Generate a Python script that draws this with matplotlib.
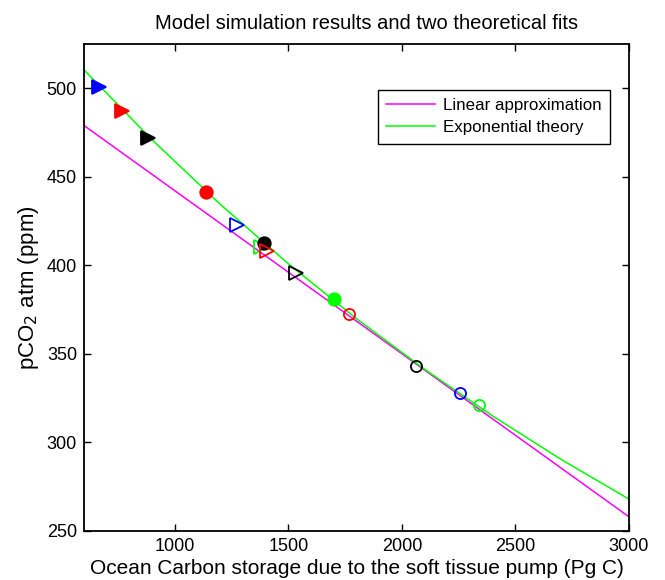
import matplotlib
matplotlib.use("Agg")
import matplotlib.pyplot as plt

plt.rcParams['font.family'] = ['Liberation Sans', 'DejaVu Sans']

# theoretical fits
lin_x = [600, 3000]
lin_y = [479.0, 258.0]

exp_x = [600, 900, 1200, 1500, 1800, 2100, 2400, 2700, 3000]
exp_y = [510.4, 470.9, 434.5, 400.9, 369.9, 341.3, 314.9, 290.5, 268.0]

# model simulation results (drawing order matters for overlaps)
pt_x = [668, 768, 884, 1138, 1275, 1378, 1394, 1407, 1532, 1700, 1766, 2062, 2255, 2338]
pt_y = [501.0, 487.3, 472.0, 441.2, 422.6, 410.4, 412.8, 407.9, 395.7, 381.0, 372.4, 343.0, 328.0, 321.1]
pt_color = ['b', 'r', 'k', 'r', 'b', 'lime', 'k', 'r', 'k', 'lime', 'r', 'k', 'b', 'lime']
pt_shape = ['>', '>', '>', 'o', '>', '>', 'o', '>', '>', 'o', 'o', 'o', 'o', 'o']
pt_filled = [True, True, True, True, False, False, True, False, False, True, False, False, False, False]

fig = plt.figure(figsize=(6.65, 5.8), dpi=100)
ax = fig.add_axes([0.1263, 0.0845, 0.8196, 0.8396])

ax.plot(lin_x, lin_y, color='magenta', lw=1.1, label='Linear approximation')
ax.plot(exp_x, exp_y, color='lime', lw=1.1, label='Exponential theory')

for i in range(len(pt_x)):
    c = pt_color[i]
    ms = 9.5 if pt_shape[i] == '>' else (9 if pt_filled[i] else 8)
    ax.plot(pt_x[i], pt_y[i], marker=pt_shape[i], ms=ms, mew=1.3,
            mec=c, mfc=c if pt_filled[i] else 'none', ls='none', zorder=3 + i)

ax.set_xlim(600, 3000)
ax.set_ylim(250, 525)
ax.set_xticks([1000, 1500, 2000, 2500, 3000])
ax.set_yticks([250, 300, 350, 400, 450, 500])
ax.tick_params(direction='in', top=True, right=True, length=5, width=1.0,
               labelsize=13, pad=5)
for s in ax.spines.values():
    s.set_linewidth(1.3)

ax.set_xlabel('Ocean Carbon storage due to the soft tissue pump (Pg C)', fontsize=15, labelpad=3)
ax.set_ylabel('pCO$_2$ atm (ppm)', fontsize=16, labelpad=4)
ax.set_title('Model simulation results and two theoretical fits', fontsize=14.5, pad=11, x=0.518)

leg = ax.legend(loc='upper right', bbox_to_anchor=(0.965, 0.906), borderaxespad=0,
                fontsize=12.2, fancybox=False, framealpha=1, edgecolor='k',
                handlelength=2.9, handletextpad=0.45, borderpad=0.5, labelspacing=0.4)
leg.get_frame().set_linewidth(1.0)

fig.savefig('out.png', dpi=100)
